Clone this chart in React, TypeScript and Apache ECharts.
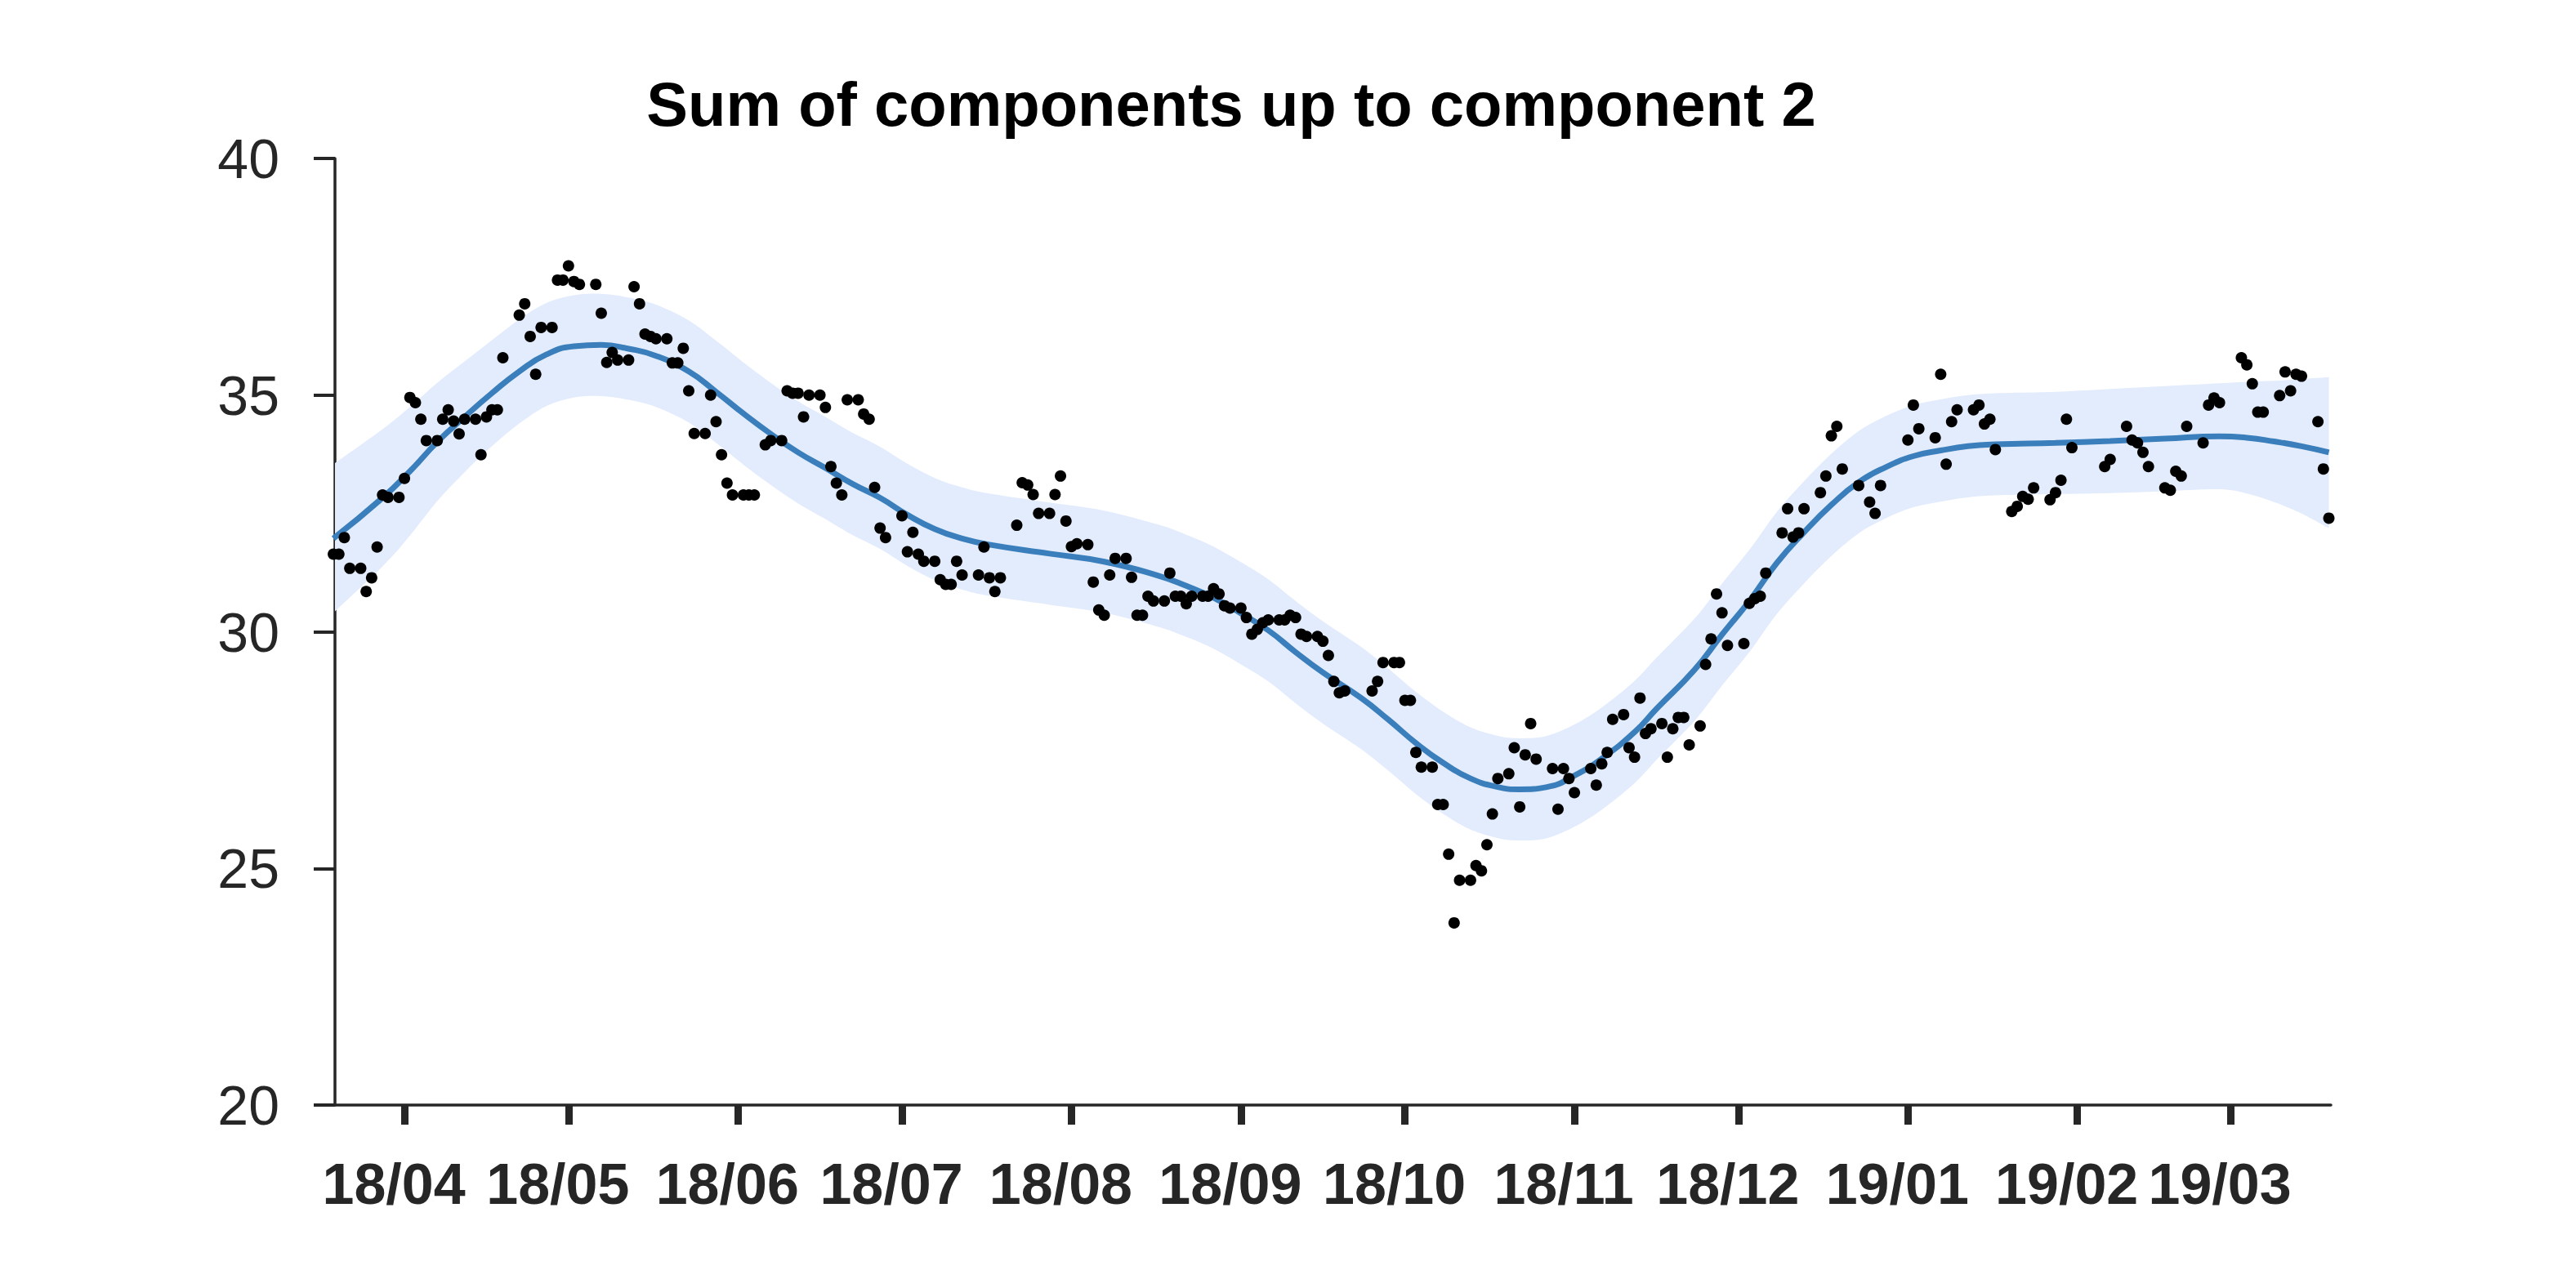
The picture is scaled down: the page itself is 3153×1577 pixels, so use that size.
import React, { useEffect, useRef } from "react";
import * as echarts from "echarts";

const TITLE = "Sum of components up to component 2";

// first observation day (local midnight); offsets below are days after it
const START_DATE = [2018, 2, 19];

// scatter observations
const obsDays = [
  0, 1, 2, 3, 5, 6, 7, 8, 9, 10, 12, 13, 14, 15, 16, 17, 19, 20, 21, 22, 23, 24, 26, 27, 28, 29, 30, 31,
  34, 35, 36, 37, 38, 40, 41, 42, 43, 44, 45, 48, 49, 50, 51, 52, 54, 55, 56, 57, 58, 59, 61, 62, 63, 64,
  65, 66, 68, 69, 70, 71, 72, 73, 75, 76, 77, 79, 80, 82, 83, 84, 85, 86, 87, 89, 90, 91, 92, 93, 94, 96,
  97, 98, 99, 100, 101, 104, 105, 106, 107, 108, 110, 111, 112, 113, 114, 115, 118, 119, 120, 121, 122,
  125, 126, 127, 128, 129, 131, 132, 133, 134, 135, 136, 138, 139, 140, 141, 142, 143, 145, 146, 147, 148,
  149, 150, 152, 153, 154, 155, 156, 157, 159, 160, 161, 162, 163, 164, 166, 167, 168, 169, 170, 171, 173,
  174, 175, 176, 177, 178, 180, 181, 182, 183, 184, 185, 190, 191, 192, 194, 195, 196, 197, 198, 199, 201,
  202, 203, 204, 205, 206, 208, 209, 210, 211, 212, 213, 215, 216, 217, 218, 219, 220, 223, 224, 225, 226,
  227, 230, 231, 232, 233, 234, 236, 237, 238, 239, 240, 241, 243, 244, 245, 246, 247, 248, 250, 251, 252,
  253, 254, 255, 258, 259, 260, 261, 262, 265, 266, 267, 268, 269, 272, 273, 274, 275, 276, 279, 281, 282,
  283, 288, 289, 290, 293, 294, 295, 296, 297, 300, 301, 302, 303, 304, 307, 308, 309, 310, 311, 314, 315,
  316, 317, 318, 324, 325, 328, 329, 330, 331, 332, 335, 336, 337, 338, 339, 342, 343, 344, 345, 349, 350,
  351, 352, 353, 356, 357, 358, 359, 360, 363, 364, 365,
];
const obsValues = [
  31.64, 31.64, 31.99, 31.34, 31.34, 30.85, 31.14, 31.79, 32.89, 32.84, 32.84, 33.24, 34.95, 34.84, 34.49,
  34.04, 34.04, 34.49, 34.69, 34.45, 34.18, 34.49, 34.49, 33.74, 34.54, 34.69, 34.69, 35.79,
  36.69, 36.93, 36.24, 35.44, 36.43, 36.43, 37.43, 37.43, 37.73, 37.40, 37.34, 37.34, 36.73, 35.69, 35.90,
  35.74, 35.74, 37.29, 36.93, 36.29, 36.24, 36.19, 36.19, 35.68, 35.68, 35.99,
  35.09, 34.19, 34.19, 35.00, 34.44, 33.74, 33.14, 32.89, 32.89, 32.89, 32.89, 33.95, 34.04, 34.04, 35.09,
  35.04, 35.04, 34.54, 35.00, 35.00, 34.74, 33.49, 33.14, 32.89, 34.90, 34.90,
  34.60, 34.49, 33.05, 32.19, 31.99, 32.45, 31.69, 32.10, 31.64, 31.49, 31.49, 31.10, 31.00, 31.00, 31.49,
  31.20, 31.20, 31.79, 31.14, 30.85, 31.14,
  32.25, 33.15, 33.10, 32.90, 32.50, 32.50, 32.90, 33.29, 32.34, 31.80, 31.86, 31.84, 31.05, 30.46, 30.35,
  31.20, 31.55, 31.55, 31.15, 30.35, 30.35,
  30.75, 30.65, 30.65, 31.24, 30.75, 30.75, 30.59, 30.75, 30.75, 30.75, 30.91, 30.80, 30.55, 30.50, 30.50,
  30.30, 29.95, 30.05, 30.19, 30.25, 30.25,
  30.25, 30.35, 30.30, 29.95, 29.90, 29.90, 29.80, 29.50, 28.95, 28.71, 28.75, 28.75, 28.95, 29.35, 29.35,
  29.35, 28.55, 28.55, 27.45, 27.14, 27.14,
  26.35, 26.35, 25.30, 23.85, 24.75, 24.75, 25.06, 24.95, 25.50, 26.15, 26.90, 27.00, 27.55, 26.30, 27.40,
  28.06, 27.31, 27.11, 26.25, 27.11, 26.90,
  26.60, 27.11, 26.76, 27.21, 27.45, 28.15, 28.25, 27.55, 27.35, 28.60, 27.85, 27.95, 28.06, 27.35, 27.95,
  28.19, 28.19, 27.61, 28.01, 29.31, 29.85,
  30.80, 30.40, 29.71, 29.75, 30.60, 30.70, 30.75, 31.24, 32.09, 32.60, 32.00, 32.09, 32.60, 32.94, 33.29,
  34.14, 34.34, 33.44, 33.09, 32.74, 32.50,
  33.09, 34.05, 34.79, 34.29, 34.10, 35.44, 33.54, 34.44, 34.69, 34.69, 34.79, 34.39, 34.49, 33.85, 32.54,
  32.65, 32.86, 32.80, 33.04, 32.79, 32.94,
  33.20, 34.49, 33.89, 33.49, 33.64, 34.34, 34.05, 33.99, 33.79, 33.49, 33.04, 32.99, 33.39, 33.29, 34.34,
  33.99, 34.79, 34.94, 34.84, 35.79, 35.64,
  35.24, 34.64, 34.64, 34.99, 35.49, 35.09, 35.44, 35.40, 34.44, 33.44, 32.40,
];

// smooth fit and its band
const fitDays = [
  0, 9, 14, 19, 24, 29, 34, 39, 44, 49, 54, 59, 65, 70, 75, 80, 85, 90, 95, 100, 105, 110, 115, 120, 131,
  141, 151, 156, 161, 166, 171, 176, 181, 188, 193, 198, 203, 208, 213, 217, 222, 227, 232, 238, 242, 249,
  254, 259, 264, 269, 274, 279, 284, 289, 294, 299, 304, 315, 325, 335, 345, 350, 355, 360, 365,
];
const fitValues = [
  31.97, 32.83, 33.39, 34.01, 34.54, 35.04, 35.5, 35.86, 36.03, 36.06, 35.98, 35.83, 35.5, 35.07, 34.61,
  34.18, 33.79, 33.46, 33.12, 32.83, 32.47, 32.17, 31.97, 31.84, 31.65,
  31.48, 31.18, 30.97, 30.72, 30.39, 30.03, 29.57, 29.14, 28.6, 28.14, 27.65, 27.23, 26.9, 26.72, 26.67,
  26.72, 26.96, 27.32, 27.88, 28.37, 29.2,
  29.94, 30.65, 31.45, 32.1, 32.68, 33.16, 33.48, 33.71, 33.83, 33.92, 33.96, 33.99, 34.03, 34.08, 34.13,
  34.1, 34.02, 33.92, 33.79,
];
const bandUpper = [
  33.54, 34.28, 34.75, 35.26, 35.71, 36.16, 36.6, 36.95, 37.11, 37.14, 37.06, 36.91, 36.58, 36.15, 35.69,
  35.26, 34.87, 34.54, 34.2, 33.91, 33.55, 33.25, 33.05, 32.92, 32.73,
  32.56, 32.26, 32.05, 31.8, 31.47, 31.11, 30.65, 30.22, 29.68, 29.22, 28.73, 28.31, 27.98, 27.8, 27.75,
  27.8, 28.04, 28.4, 28.96, 29.45, 30.28,
  31.02, 31.73, 32.53, 33.18, 33.76, 34.24, 34.56, 34.79, 34.91, 35.0, 35.04, 35.07, 35.13, 35.19, 35.25,
  35.28, 35.3, 35.34, 35.38,
];
const bandLower = [
  30.4, 31.38, 32.03, 32.76, 33.37, 33.92, 34.4, 34.77, 34.95, 34.98, 34.9, 34.75, 34.42, 33.99, 33.53,
  33.1, 32.71, 32.38, 32.04, 31.75, 31.39, 31.09, 30.89, 30.76, 30.57,
  30.4, 30.1, 29.89, 29.64, 29.31, 28.95, 28.49, 28.06, 27.52, 27.06, 26.57, 26.15, 25.82, 25.64, 25.59,
  25.64, 25.88, 26.24, 26.8, 27.29, 28.12,
  28.86, 29.57, 30.37, 31.02, 31.6, 32.08, 32.4, 32.63, 32.75, 32.84, 32.88, 32.91, 32.93, 32.97, 33.01,
  32.92, 32.74, 32.5, 32.19,
];

// x-axis month ticks
const monthTicks = [
  "2018-04", "2018-05", "2018-06", "2018-07", "2018-08", "2018-09",
  "2018-10", "2018-11", "2018-12", "2019-01", "2019-02", "2019-03",
];
const monthLabels = [
  "18/04", "18/05", "18/06", "18/07", "18/08", "18/09",
  "18/10", "18/11", "18/12", "19/01", "19/02", "19/03",
];

const yTicks = { min: 20, max: 40, interval: 5 };

const DAY = 86400000;
const startTime = new Date(START_DATE[0], START_DATE[1], START_DATE[2]).getTime();
const dayToTime = (d: number) => startTime + d * DAY;
const X_MIN = new Date(2018, 2, 19, 7).getTime();
const X_MAX = new Date(2019, 2, 19, 9).getTime();

const tickTimes = monthTicks.map((s) => {
  const [y, m] = s.split("-").map(Number);
  return new Date(y, m - 1, 1).getTime();
});

const INK = "#262626";
const BAND = "#e3ecfd";
const FONT = "'Liberation Sans', Arial, Helvetica, sans-serif";

// Catmull-Rom spline through pixel points, as SVG cubic segments
function splineSegments(p: number[][]): string {
  let s = "";
  const n = p.length;
  for (let i = 0; i < n - 1; i++) {
    const p0 = p[Math.max(0, i - 1)];
    const p1 = p[i];
    const p2 = p[i + 1];
    const p3 = p[Math.min(n - 1, i + 2)];
    const c1x = p1[0] + (p2[0] - p0[0]) / 6;
    const c1y = p1[1] + (p2[1] - p0[1]) / 6;
    const c2x = p2[0] - (p3[0] - p1[0]) / 6;
    const c2y = p2[1] - (p3[1] - p1[1]) / 6;
    s += ` C${c1x.toFixed(2)},${c1y.toFixed(2)} ${c2x.toFixed(2)},${c2y.toFixed(2)} ${p2[0].toFixed(2)},${p2[1].toFixed(2)}`;
  }
  return s;
}

export default function App() {
  const ref = useRef<HTMLDivElement>(null);

  useEffect(() => {
    if (!ref.current) return;
    const chart = echarts.init(ref.current, undefined, { renderer: "svg" });

    const scatterData = obsDays.map((d, i) => [dayToTime(d), obsValues[i]]);
    const fitData = fitDays.map((d, i) => [dayToTime(d), fitValues[i]]);
    const bandData = fitDays.map((d, i) => [dayToTime(d), bandLower[i], bandUpper[i]]);

    const option: any = {
      animation: false,
      backgroundColor: "#ffffff",
      title: {
        text: TITLE,
        left: 1502,
        top: 84,
        textAlign: "center",
        textStyle: { fontFamily: FONT, fontSize: 76, fontWeight: "bold", color: "#000000" },
      },
      grid: { left: 410, right: 300, top: 194, bottom: 224, outerBoundsMode: "none" },
      xAxis: {
        type: "value",
        min: X_MIN,
        max: X_MAX,
        axisLine: { show: true, onZero: false, lineStyle: { color: INK, width: 3.5 } },
        axisTick: {
          show: true,
          inside: false,
          length: 24,
          customValues: tickTimes,
          lineStyle: { color: INK, width: 9 },
        },
        axisLabel: {
          customValues: tickTimes,
          formatter: (v: number) => {
            const idx = tickTimes.findIndex((t) => Math.abs(t - v) < DAY / 2);
            return idx >= 0 ? monthLabels[idx] : "";
          },
          fontFamily: FONT,
          fontWeight: "bold",
          fontSize: 70,
          color: INK,
          margin: 62,
          padding: [0, 26, 0, 0],
        },
        splitLine: { show: false },
      },
      yAxis: {
        type: "value",
        min: yTicks.min,
        max: yTicks.max,
        interval: yTicks.interval,
        axisLine: { show: true, lineStyle: { color: INK, width: 3.5 } },
        axisTick: { show: true, inside: false, length: 26, lineStyle: { color: INK, width: 4 } },
        axisLabel: { fontFamily: FONT, fontSize: 68, color: INK, margin: 68 },
        splitLine: { show: false },
      },
      series: [
        {
          name: "band",
          type: "custom",
          data: bandData,
          encode: { x: 0, y: [1, 2] },
          silent: true,
          clip: true,
          z: 1,
          renderItem: (params: any, api: any) => {
            if (params.dataIndex !== 0) return null;
            const up = bandData.map((r) => api.coord([r[0], r[2]]));
            const lo = bandData.map((r) => api.coord([r[0], r[1]])).reverse();
            const cs = params.coordSys;
            const leftX = Math.max(up[0][0], cs.x);
            let d = `M${up[0][0].toFixed(2)},${up[0][1].toFixed(2)}` + splineSegments(up);
            d += ` L${lo[0][0].toFixed(2)},${lo[0][1].toFixed(2)}` + splineSegments(lo) + " Z";
            return {
              type: "group",
              children: [
                {
                  type: "path",
                  shape: { pathData: d },
                  style: { fill: BAND, stroke: "none" },
                },
              ],
              clipPath: {
                type: "rect",
                shape: { x: leftX, y: cs.y, width: cs.x + cs.width - leftX, height: cs.height },
              },
            };
          },
        },
        {
          name: "fit",
          type: "line",
          data: fitData,
          smooth: 0.5,
          symbol: "none",
          lineStyle: { color: "#3a7ebb", width: 7 },
          silent: true,
          z: 3,
        },
        {
          name: "obs",
          type: "scatter",
          data: scatterData,
          symbol: "circle",
          symbolSize: 14,
          itemStyle: { color: "#000000", opacity: 1 },
          clip: false,
          silent: true,
          z: 5,
        },
      ],
    };

    chart.setOption(option);
    return () => chart.dispose();
  }, []);

  return (
    <div
      ref={ref}
      style={{ position: "fixed", left: 0, top: 0, width: "3153px", height: "1577px", background: "#fff" }}
    />
  );
}
